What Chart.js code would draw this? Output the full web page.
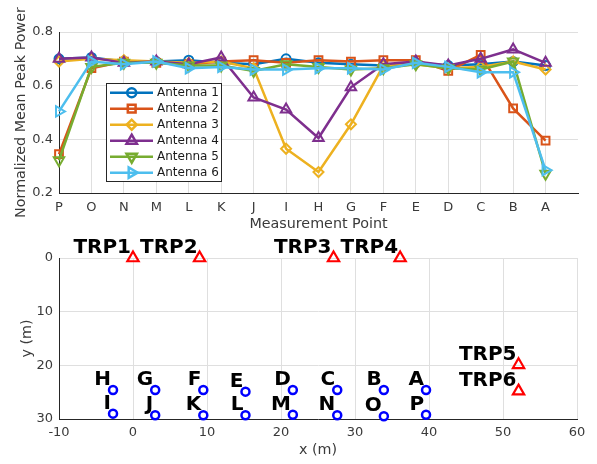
<!DOCTYPE html>
<html><head><meta charset="utf-8">
<script src="https://cdn.jsdelivr.net/npm/chart.js@4.4.1/dist/chart.umd.min.js"></script>
<style>
html,body{margin:0;padding:0;background:#fff;}
#c1{position:absolute;left:0;top:0;}
#c2{position:absolute;left:0;top:232px;}
</style></head><body>
<canvas id="c1" width="597" height="240"></canvas>
<canvas id="c2" width="597" height="232"></canvas>
<script>
// ---------- data: top plot ----------
const categories = ['P','O','N','M','L','K','J','I','H','G','F','E','D','C','B','A'];
const seriesNames = ['Antenna 1','Antenna 2','Antenna 3','Antenna 4','Antenna 5','Antenna 6'];
const antenna1 = [0.700,0.705,0.690,0.690,0.695,0.685,0.680,0.700,0.685,0.680,0.675,0.685,0.675,0.680,0.690,0.675];
const antenna2 = [0.345,0.665,0.690,0.685,0.680,0.690,0.695,0.685,0.695,0.690,0.695,0.695,0.655,0.715,0.515,0.395];
const antenna3 = [0.690,0.700,0.695,0.690,0.685,0.690,0.665,0.365,0.278,0.456,0.675,0.680,0.665,0.670,0.690,0.660];
const antenna4 = [0.700,0.705,0.685,0.690,0.680,0.705,0.556,0.511,0.405,0.594,0.680,0.690,0.675,0.700,0.735,0.685];
const antenna5 = [0.322,0.670,0.685,0.685,0.675,0.675,0.655,0.680,0.670,0.660,0.665,0.680,0.665,0.660,0.690,0.272];
const antenna6 = [0.504,0.690,0.680,0.690,0.665,0.670,0.660,0.660,0.665,0.665,0.660,0.685,0.670,0.650,0.650,0.285];
const yTicksTop = [0.2,0.4,0.6,0.8];

// ---------- data: bottom plot ----------
const pointLabels = ['H','G','F','E','D','C','B','A','I','J','K','L','M','N','O','P'];
const pointX = [-2.7,3.0,9.5,15.2,21.6,27.6,33.9,39.6,-2.7,3.0,9.5,15.2,21.6,27.6,33.9,39.6];
const pointY = [24.6,24.6,24.6,24.9,24.6,24.6,24.6,24.6,29.0,29.3,29.3,29.3,29.2,29.3,29.5,29.2];
const trpLabels = ['TRP1','TRP2','TRP3','TRP4','TRP5','TRP6'];
const trpX = [0,9,27.1,36.1,52.1,52.1];
const trpY = [0,0,0,0,19.9,24.8];
const xTicksBottom = [-10,0,10,20,30,40,50,60];
const yTicksBottom = [0,10,20,30];

// ---------- styles ----------
const colors = ['#0072BD','#D95319','#EDB120','#7E2F8E','#77AC30','#4DBEEE'];
const pStyles = ['circle','rect','rectRot','triangle','triangle','triangle'];
const pRot = [0,0,0,0,180,90];
const pRad = [4.5,5.5,5,6,6,6];
const series = [antenna1,antenna2,antenna3,antenna4,antenna5,antenna6];

Chart.defaults.font.family = 'DejaVu Sans';
Chart.defaults.color = '#3a3a3a';
const gridColor = '#dfdfdf';
const axisColor = '#262626';
const tickSize = 13, labelSize = 14.3;

const legendPlugin = {
  id: 'boxLegend',
  afterDraw(chart) {
    const ctx = chart.ctx;
    ctx.save();
    const bx = 106.5, by = 83.5, bw = 115, bh = 98;
    ctx.fillStyle = '#fff';
    ctx.fillRect(bx, by, bw, bh);
    ctx.strokeStyle = axisColor; ctx.lineWidth = 1;
    ctx.strokeRect(bx, by, bw, bh);
    seriesNames.forEach((name, i) => {
      const y = 92.7 + i * 16;
      ctx.strokeStyle = colors[i]; ctx.lineWidth = 2.5;
      ctx.beginPath(); ctx.moveTo(110, y); ctx.lineTo(153, y); ctx.stroke();
      ctx.fillStyle = 'rgba(0,0,0,0)';
      Chart.helpers.drawPoint(ctx, {pointStyle: pStyles[i], rotation: pRot[i], radius: pRad[i], borderWidth: 2}, 131.7, y);
      ctx.fillStyle = '#1a1a1a';
      ctx.font = '12px "DejaVu Sans"';
      ctx.textAlign = 'left'; ctx.textBaseline = 'middle';
      ctx.fillText(name, 157, y + 0.5);
    });
    ctx.restore();
  }
};

new Chart(document.getElementById('c1'), {
  type: 'line',
  data: {
    datasets: series.map((vals, i) => ({
      label: seriesNames[i],
      data: vals.map((v, k) => ({x: k, y: v})),
      borderColor: colors[i],
      backgroundColor: 'rgba(0,0,0,0)',
      pointBorderColor: colors[i],
      pointBackgroundColor: 'rgba(0,0,0,0)',
      borderWidth: 2.5,
      pointBorderWidth: 2,
      pointStyle: pStyles[i],
      pointRotation: pRot[i],
      pointRadius: pRad[i],
      tension: 0,
      clip: false,
      order: 6 - i
    }))
  },
  options: {
    responsive: false, animation: false, devicePixelRatio: 1,
    layout: {padding: {top: 32, right: 19, left: 0, bottom: 0}},
    plugins: {legend: {display: false}, tooltip: {enabled: false}},
    scales: {
      x: {
        type: 'linear', min: 0, max: 16,
        afterBuildTicks: s => { s.ticks = categories.map((c, i) => ({value: i})); },
        afterFit: s => { s.height = 47; },
        ticks: {callback: v => categories[v], font: {size: tickSize}, padding: 7, maxRotation: 0, autoSkip: false},
        grid: {color: gridColor, drawTicks: false},
        border: {color: axisColor, width: 1},
        title: {display: true, text: 'Measurement Point', font: {size: labelSize}, padding: {top: 0, bottom: 7}}
      },
      y: {
        min: 0.2, max: 0.8,
        afterBuildTicks: s => { s.ticks = yTicksTop.map(v => ({value: v})); },
        afterFit: s => { s.width = 59; },
        ticks: {callback: v => Number(v).toFixed(1), font: {size: tickSize}, padding: 6},
        grid: {color: gridColor, drawTicks: false},
        border: {color: axisColor, width: 1},
        title: {display: true, text: 'Normalized Mean Peak Power', font: {size: labelSize}, padding: {top: 13, bottom: 0}}
      }
    }
  },
  plugins: [legendPlugin]
});

const labelPlugin = {
  id: 'pointText',
  afterDatasetsDraw(chart) {
    const ctx = chart.ctx;
    const xs = chart.scales.x, ys = chart.scales.y;
    ctx.save();
    ctx.fillStyle = '#000';
    ctx.font = 'bold 20px "DejaVu Sans"';
    ctx.textAlign = 'right'; ctx.textBaseline = 'alphabetic';
    chart.data.datasets.forEach(ds => {
      ds.data.forEach((p, k) => {
        ctx.fillText(ds.texts[k], xs.getPixelForValue(p.x) - 2, ys.getPixelForValue(p.y) - 5);
      });
    });
    ctx.restore();
  }
};

new Chart(document.getElementById('c2'), {
  type: 'scatter',
  data: {
    datasets: [
      {
        data: pointX.map((x, k) => ({x: x, y: pointY[k]})),
        texts: pointLabels,
        pointStyle: 'circle', pointRadius: 4, pointBorderWidth: 2.5,
        pointBorderColor: '#0000FF', pointBackgroundColor: 'rgba(0,0,0,0)',
        showLine: false, clip: false
      },
      {
        data: trpX.map((x, k) => ({x: x, y: trpY[k]})),
        texts: trpLabels,
        pointStyle: 'triangle', pointRadius: 6.5, pointBorderWidth: 2.2,
        pointBorderColor: '#FF0000', pointBackgroundColor: 'rgba(0,0,0,0)',
        showLine: false, clip: false
      }
    ]
  },
  options: {
    responsive: false, animation: false, devicePixelRatio: 1,
    layout: {padding: {top: 26, right: 20, left: 0, bottom: 0}},
    plugins: {legend: {display: false}, tooltip: {enabled: false}},
    scales: {
      x: {
        type: 'linear', min: -10, max: 60,
        afterBuildTicks: s => { s.ticks = xTicksBottom.map(v => ({value: v})); },
        afterFit: s => { s.height = 45; },
        ticks: {callback: v => String(v), font: {size: tickSize}, padding: 6, maxRotation: 0},
        grid: {color: gridColor, drawTicks: false},
        border: {color: axisColor, width: 1},
        title: {display: true, text: 'x (m)', font: {size: labelSize}, padding: {top: 0, bottom: 5}}
      },
      y: {
        type: 'linear', min: 0, max: 30, reverse: true,
        afterBuildTicks: s => { s.ticks = yTicksBottom.map(v => ({value: v})); },
        afterFit: s => { s.width = 59; },
        ticks: {callback: v => String(v), font: {size: tickSize}, padding: 6},
        grid: {color: gridColor, drawTicks: false},
        border: {color: axisColor, width: 1},
        title: {display: true, text: 'y (m)', font: {size: labelSize}, padding: {top: 19, bottom: 0}}
      }
    }
  },
  plugins: [labelPlugin]
});
</script>
</body></html>
